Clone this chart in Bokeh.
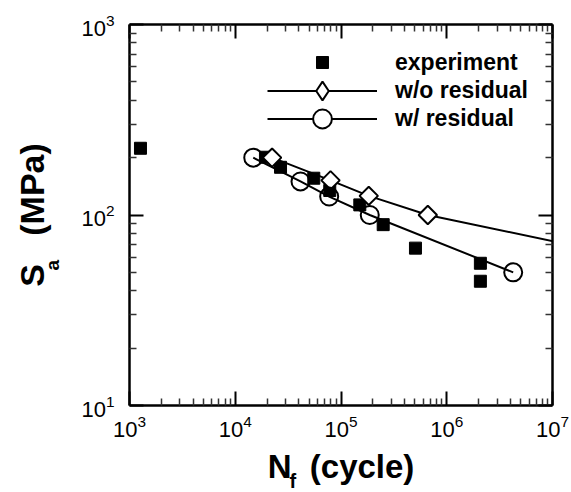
import numpy as np
from bokeh.plotting import figure
from bokeh.models import (LogAxis, FixedTicker, CustomJSTickFormatter, Label,
                          Legend, LegendItem, Range1d, ColumnDataSource)
from bokeh.embed import file_html
from bokeh.resources import INLINE

# ---------------- data ----------------
exp_N = [1270, 19300, 26800, 55300, 78300, 150600, 250600, 506000, 2.08e6, 2.08e6]
exp_S = [224, 201, 178, 156, 134.5, 113, 89, 67, 55.8, 44.9]

wo_N = [22300, 79600, 183000, 662000, 2.0e7]
wo_S = [200, 152, 126, 100, 67.2]

w_N = [14800, 41400, 77300, 187000, 4.25e6]
w_S = [200, 150, 125, 100, 50]

x_major = [1e3, 1e4, 1e5, 1e6, 1e7]
y_major = [10, 100, 1000]
mantissas = [2, 3, 4, 5, 6, 7, 8, 9]
x_minor = [m * d for d in x_major[:-1] for m in mantissas]
y_minor = [m * d for d in y_major[:-1] for m in mantissas]

NB = "\u00a0"
x_title = "N" + NB * 2 + "(cycle)"
x_title_sub = "f"
y_title = "S" + NB * 3 + "(MPa)"
y_title_sub = "a"

FONT = "Liberation Sans"

p = figure(width=571, height=492, x_axis_type="log", y_axis_type="log",
           x_range=Range1d(1e3, 1e7), y_range=Range1d(10, 1000),
           output_backend="svg", toolbar_location=None,
           min_border_left=129, min_border_right=19, min_border_top=24,
           min_border_bottom=87)
p.grid.visible = False
p.outline_line_color = None
p.background_fill_color = "white"
p.border_fill_color = "white"

xb = p.xaxis[0]
yl = p.yaxis[0]
xb.ticker = FixedTicker(ticks=x_major, minor_ticks=x_minor)
yl.ticker = FixedTicker(ticks=y_major, minor_ticks=y_minor)

top = LogAxis(ticker=FixedTicker(ticks=x_major, minor_ticks=x_minor),
              formatter=CustomJSTickFormatter(code="return ''"))
right = LogAxis(ticker=FixedTicker(ticks=y_major, minor_ticks=y_minor),
                formatter=CustomJSTickFormatter(code="return ''"))
p.add_layout(top, "above")
p.add_layout(right, "right")

for ax in [xb, yl, top, right]:
    ax.major_tick_in = 14
    ax.major_tick_out = 0
    ax.minor_tick_in = 7
    ax.minor_tick_out = 0
    ax.axis_line_width = 2.5
    ax.axis_line_color = "black"
    ax.major_tick_line_width = 2
    ax.minor_tick_line_width = 1.5
    ax.major_tick_line_color = "black"
    ax.minor_tick_line_color = "#333333"
    ax.major_label_text_font = FONT
    ax.major_label_text_font_size = "22px"
    ax.major_label_text_color = "black"
for ax in [top, right]:
    ax.major_label_standoff = 0
    ax.major_label_text_font_size = "1px"
xb.major_label_standoff = 9
yl.major_label_standoff = 15

for ax in [xb, yl]:
    ax.axis_label_text_font = FONT
    ax.axis_label_text_font_style = "bold"
    ax.axis_label_text_color = "black"
xb.axis_label = x_title
xb.axis_label_text_font_size = "33px"
xb.axis_label_standoff = 8
yl.axis_label = y_title
yl.axis_label_text_font_size = "34px"
yl.axis_label_standoff = 27

src_exp = ColumnDataSource(dict(N=exp_N, S=exp_S))
src_wo = ColumnDataSource(dict(N=wo_N, S=wo_S))
src_w = ColumnDataSource(dict(N=w_N, S=w_S))

r_exp = p.scatter("N", "S", source=src_exp, marker="square", size=12,
                  fill_color="black", line_color="black")
r_wo_line = p.line("N", "S", source=src_wo, line_color="black", line_width=2)
r_wo_pts = p.scatter("N", "S", source=src_wo, marker="square", angle=np.pi / 4,
                     size=13, fill_color="white", line_color="black", line_width=2)
r_w_line = p.line("N", "S", source=src_w, line_color="black", line_width=2)
r_w_pts = p.scatter("N", "S", source=src_w, marker="circle", size=18,
                    fill_color=None, line_color="black", line_width=2)

# legend key glyphs (a single NaN point, so nothing is drawn in the plot)
k_wo = p.scatter(x=[np.nan], y=[np.nan], marker="diamond", fill_color="white",
                 line_color="black", line_width=2)
k_w = p.scatter(x=[np.nan], y=[np.nan], marker="circle", fill_color="white",
                line_color="black", line_width=2)

def make_legend(label, renderers, gh, vy):
    lg = Legend(items=[LegendItem(label=label, renderers=renderers)],
                location=(138, vy), glyph_width=110, glyph_height=gh,
                label_standoff=18, spacing=0, padding=0, margin=0,
                border_line_color=None, background_fill_alpha=0,
                label_text_font=FONT, label_text_font_style="bold",
                label_text_font_size="23px", label_text_color="black")
    p.add_layout(lg)

make_legend("experiment", [r_exp], 30, 328)
make_legend("w/o residual", [r_wo_line, k_wo], 47, 291.5)
make_legend("w/ residual", [r_w_line, k_w], 47, 263.5)

sub_f = Label(text=x_title_sub, x=-263, y=-75, x_units="screen", y_units="screen",
              text_font=FONT, text_font_style="bold", text_font_size="20px",
              text_color="black", text_align="left", text_baseline="alphabetic")
p.add_layout(sub_f, "right")

sub_a = Label(text=y_title_sub, x=-77, y=-246, x_units="screen", y_units="screen",
              angle=np.pi / 2,
              text_font=FONT, text_font_style="bold", text_font_size="19px",
              text_color="black", text_align="left", text_baseline="alphabetic")
p.add_layout(sub_a, "above")

open("out.html", "w").write(file_html(p, INLINE))
